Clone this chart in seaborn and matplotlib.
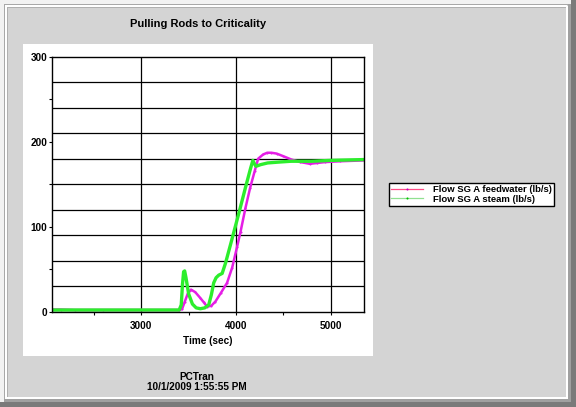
import numpy as np
import pandas as pd
import matplotlib
matplotlib.use("Agg")
import matplotlib.pyplot as plt
from matplotlib.patches import Rectangle
from matplotlib.lines import Line2D
import seaborn as sns

# ---- data ----
time_fw = [2054, 2150, 2300, 2600, 3000, 3400, 3430, 3460, 3490, 3525, 3570, 3624,
           3660, 3695, 3740, 3783, 3840, 3906, 3960, 4011, 4048, 4100, 4150, 4199,
           4234, 4287, 4330, 4375, 4430, 4498, 4586, 4680, 4780, 4860, 4940, 5100, 5355]
flow_fw = [2.5, 2.5, 2, 2, 2, 2, 3, 12, 21, 26, 23, 16,
           11, 6, 7, 12, 22, 34, 52, 76, 94, 122, 146, 166,
           180, 185, 187, 187, 186, 183, 179, 176, 174, 175, 176, 177, 178]

time_st = [2054, 2300, 2600, 3000, 3400, 3422, 3435, 3447, 3458, 3472, 3500, 3540,
           3580, 3624, 3670, 3712, 3740, 3765, 3790, 3818, 3854, 3889, 3940, 3983,
           4040, 4100, 4150, 4178, 4195, 4211, 4260, 4334, 4450, 4581, 4800, 5000, 5355]
flow_st = [2, 2, 2, 2, 2, 8, 32, 47, 48, 40, 21, 9,
           4.5, 3.5, 4.5, 8, 20, 34, 40, 43, 45, 57, 78, 96,
           120, 146, 167, 178, 174, 171, 173, 175, 176, 177, 177, 178, 179]

series_names = ["Flow SG A feedwater (lb/s)", "Flow SG A steam (lb/s)"]
title = "Pulling Rods to Criticality"
xlabel = "Time (sec)"
footer = "PCTran\n10/1/2009 1:55:55 PM"
y_major = [0, 100, 200, 300]
y_minor = [50, 150, 250]
y_grid = [30, 60, 90, 120, 150, 180, 210, 240, 270]
x_major = [3000, 4000, 5000]
x_minor = [2500, 3500, 4500]

df = pd.concat([
    pd.DataFrame({"time": time_fw, "flow": flow_fw, "series": series_names[0]}),
    pd.DataFrame({"time": time_st, "flow": flow_st, "series": series_names[1]}),
])

plt.rcParams['font.family'] = ['Liberation Sans', 'DejaVu Sans']
plt.rcParams['font.weight'] = 'bold'

W, H = 576, 407
fig = plt.figure(figsize=(W / 100, H / 100), dpi=100)
fig.patch.set_facecolor('#d4d4d4')


def prect(x0, y0, x1, y1, color, z=0):
    fig.add_artist(Rectangle((x0 / W, 1 - y1 / H), (x1 - x0) / W, (y1 - y0) / H,
                             transform=fig.transFigure, facecolor=color,
                             edgecolor='none', zorder=z))


# window frame decoration
prect(0, 0, W, 4, '#f2f2f2')
prect(0, 0, 4, H, '#f2f2f2')
prect(4, 4, 5, 400, '#a8a8a8')
prect(4, 4, 568, 5, '#a8a8a8')
prect(5, 5, 7, 399, '#ffffff')
prect(5, 5, 567, 7, '#ffffff')
prect(7, 7, 8, 398, '#b0b0b0')
prect(7, 7, 566, 8, '#b0b0b0')
prect(566, 6, 568, 400, '#ffffff')
prect(6, 397, 568, 399, '#ffffff')
prect(568, 4, 571, 402, '#a0a0a0')
prect(4, 399, 571, 402, '#a0a0a0')
prect(571, 0, W, H, '#7a7a7a')
prect(0, 402, W, H, '#7a7a7a')
# white plot panel
prect(23, 44, 373, 356, '#ffffff')

ax = fig.add_axes([51.7 / W, 1 - 311.7 / H, (364.3 - 51.7) / W, (311.7 - 56.7) / H])
ax.set_facecolor('white')

sns.lineplot(data=df[df.series == series_names[0]], x="time", y="flow", ax=ax,
             color='#e51ee5', lw=1.8, marker='.', markersize=3, markeredgewidth=0,
             legend=False, zorder=3)
sns.lineplot(data=df[df.series == series_names[1]], x="time", y="flow", ax=ax,
             color='#2cee2c', lw=2.4, legend=False, zorder=4)

ax.set_xlim(2054, 5355)
ax.set_ylim(0, 300)
ax.set_xticks(x_major)
ax.set_xticks(x_minor, minor=True)
ax.set_yticks(y_major)
ax.set_yticks(y_minor, minor=True)
for g in y_grid:
    ax.axhline(g, color='black', lw=0.9, zorder=1)
for g in x_major:
    ax.axvline(g, color='black', lw=0.9, zorder=1)

ax.tick_params(axis='both', which='both', direction='out', length=2.5, width=0.8,
               color='black', labelsize=7.2)
ax.tick_params(axis='y', pad=0.8)
ax.tick_params(axis='x', pad=4.5)
for lab in ax.get_xticklabels() + ax.get_yticklabels():
    lab.set_fontweight('bold')
for s in ax.spines.values():
    s.set_color('black')
    s.set_linewidth(1.0)
    s.set_zorder(5)

ax.set_xlabel(xlabel, fontsize=7.2, fontweight='bold', labelpad=3)
ax.set_ylabel('')

fig.text(198 / W, 1 - 24 / H, title, ha='center', va='center', fontsize=8,
         fontweight='bold')
fig.text(197 / W, 1 - 382 / H, footer, ha='center', va='center', fontsize=7.2,
         fontweight='bold', linespacing=1.0)

handles = [
    Line2D([0], [0], color='#ff4c86', lw=0.9, marker='.', markersize=3,
           markerfacecolor='#c000c0', markeredgewidth=0),
    Line2D([0], [0], color='#90e090', lw=0.9, marker='.', markersize=3,
           markerfacecolor='#00c000', markeredgewidth=0),
]
leg = ax.legend(handles, series_names, loc='upper left',
                bbox_to_anchor=(389 / W, 1 - 182.7 / H), bbox_transform=fig.transFigure,
                frameon=True, fancybox=False, framealpha=1, edgecolor='black',
                borderpad=0.25, labelspacing=0.05, handlelength=3.4,
                handletextpad=1.0, borderaxespad=0,
                prop={'weight': 'bold', 'size': 6.8})
leg.get_frame().set_linewidth(1.0)

fig.savefig("out.png", dpi=100, facecolor=fig.get_facecolor())
